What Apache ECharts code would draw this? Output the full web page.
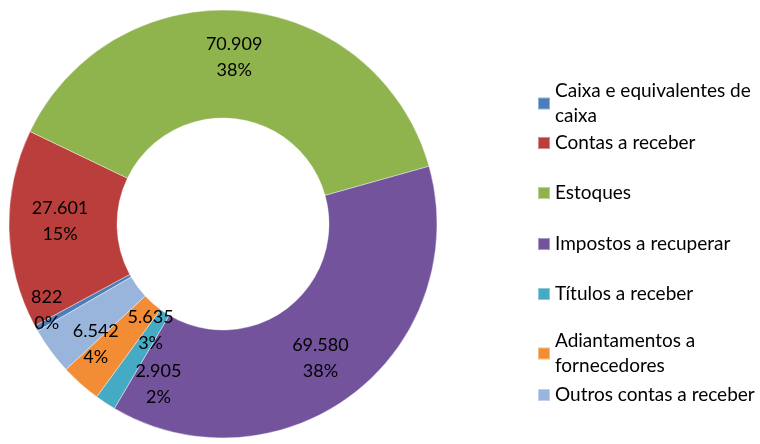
<!DOCTYPE html>
<html>
<head>
<meta charset="utf-8">
<script src="https://cdn.jsdelivr.net/npm/echarts@6/dist/echarts.min.js"></script>
<style>
  html, body { margin: 0; padding: 0; background: #fff; }
  #chart { width: 760px; height: 444px; }
</style>
</head>
<body>
<div id="chart"></div>
<script>
// dados do gráfico
const categorias = [
  'Caixa e equivalentes de caixa',
  'Contas a receber',
  'Estoques',
  'Impostos a recuperar',
  'Títulos a receber',
  'Adiantamentos a fornecedores',
  'Outros contas a receber'
]
const valores = [822, 27601, 70909, 69580, 2905, 5635, 6542]

// cores estilo Office
const cores = ['#4a7ebb', '#ba3e3b', '#8fb34d', '#73539c', '#45aac3', '#f28c35', '#99b5db']

// quebra de linha da legenda (como no Excel)
const quebras = {
  'Caixa e equivalentes de caixa': 'Caixa e equivalentes de\ncaixa',
  'Adiantamentos a fornecedores': 'Adiantamentos a\nfornecedores'
}
// ajuste fino das etiquetas
const ajusteLabel = {
  'Caixa e equivalentes de caixa': [-34, 7],
  'Contas a receber': [0, -7],
  'Estoques': [-3, -4],
  'Impostos a recuperar': [-2, 5],
  'Títulos a receber': [25, 24],
  'Adiantamentos a fornecedores': [36, -16],
  'Outros contas a receber': [4, 23]
}
// centro vertical de cada item da legenda
const legendaY = [91, 140, 190, 241, 291, 341, 392]

function milhar(v) {
  return String(v).replace(/\B(?=(\d{3})+(?!\d))/g, '.')
}

const chart = echarts.init(document.getElementById('chart'))

const fonte = 'Lato, "Liberation Sans", sans-serif'

const legendas = categorias.map((nome, i) => {
  const duasLinhas = !!quebras[nome]
  return {
    data: [nome],
    orient: 'vertical',
    left: 537,
    top: legendaY[i] - 9.5,
    padding: 0,
    itemGap: 0,
    itemWidth: 12,
    itemHeight: 12,
    selectedMode: false,
    icon: 'rect',
    formatter: n => quebras[n] || n,
    textStyle: {
      fontFamily: fonte,
      fontSize: 19,
      color: '#000',
      lineHeight: 25,
      height: duasLinhas ? 25 : undefined
    }
  }
})

const option = {
  animation: false,
  color: cores,
  legend: legendas,
  series: [
    {
      name: 'Ativo',
      type: 'pie',
      center: [223, 224],
      radius: [106, 214],
      startAngle: 210,
      clockwise: true,
      percentPrecision: 0,
      avoidLabelOverlap: false,
      data: categorias.map((c, i) => ({ name: c, value: valores[i] })),
      itemStyle: {
        borderColor: 'rgba(255,255,255,0.4)',
        borderWidth: 1
      },
      label: {
        show: true,
        position: 'inside',
        fontFamily: fonte,
        fontSize: 18,
        lineHeight: 26,
        color: '#000',
        formatter: p => milhar(p.value) + '\n' + p.percent + '%'
      },
      labelLine: { show: false },
      labelLayout: params => {
        const d = ajusteLabel[categorias[params.dataIndex]] || [0, 0]
        return { dx: d[0], dy: d[1] }
      }
    }
  ]
}
chart.setOption(option)
</script>
</body>
</html>
